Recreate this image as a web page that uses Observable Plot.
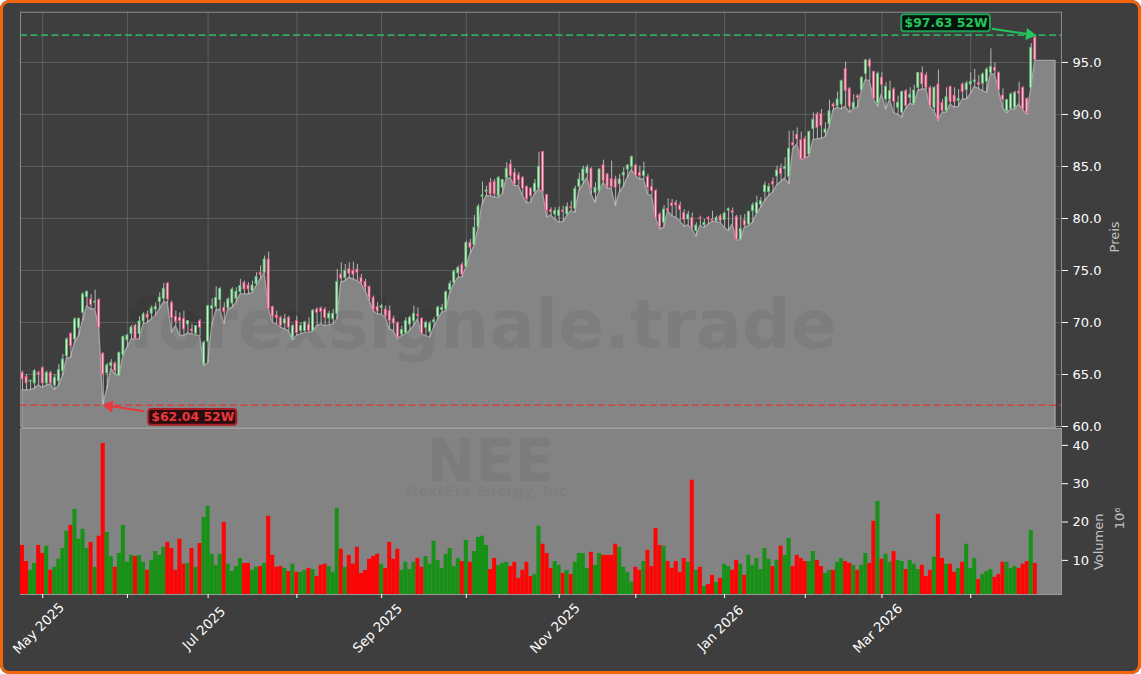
<!DOCTYPE html>
<html><head><meta charset="utf-8">
<script src="https://cdn.jsdelivr.net/npm/d3@7"></script>
<script src="https://cdn.jsdelivr.net/npm/@observablehq/plot@0.6"></script>
<style>
html,body{margin:0;padding:0;background:#fff;width:1141px;height:674px;overflow:hidden}
#chart{position:relative;width:1141px;height:674px;box-sizing:border-box;background:#3e3e3e;border-radius:9px;overflow:hidden}
#chart svg{position:absolute;left:0;top:0}
#edge{position:absolute;left:0;top:0;width:1141px;height:674px;box-sizing:border-box;border:3px solid #f4650c;border-radius:9px;pointer-events:none}
</style></head><body>
<div id="chart"><div id="edge"></div></div>
<script>
const highs=[65.32,65,64.46,65.48,65.32,65.74,65.32,65.32,65,65.97,66.92,68.53,68.94,70.45,70.4,72.85,73.01,72.69,73.11,72.28,
67.08,66.06,66.44,66.19,67.15,68.69,68.85,69.71,69.81,70.55,70.93,71.09,71.57,71.89,72.85,73.75,73.82,72.05,71.09,70.93,
71.09,70.13,69.81,69.71,70.29,68.21,71.64,72.28,73.43,73.34,71.89,72.37,73.34,73.34,74.14,73.98,73.82,73.98,74.78,75.42,
76.38,76.76,71.57,71.09,70.6,70.77,70.6,69.8,70.6,69.97,70.13,70.45,71.25,71.41,71.48,71.41,71.09,71.25,75.1,75.74,
75.58,75.74,75.8,75.58,74.62,74.14,73.5,72.54,71.9,71.74,71.57,71.57,70.61,70.04,69.65,70.45,70.61,71.57,71.41,70.45,
70.13,70.13,70.45,71.57,71.74,73.02,73.98,75.04,75.42,75.74,77.82,77.98,80.29,81.35,83.5,83.11,83.82,83.75,84.01,83.75,
85.36,85.61,84.78,84.4,84.01,83.11,82.95,83.75,86.38,86.45,82.31,81.03,81.03,81.09,81.18,81.5,81.66,83.1,84.32,85.03,
85.13,84.87,83.43,84.77,85.6,84.32,85.5,84.07,84.23,84.87,85.19,86,85.19,85.03,85.41,84.23,83.75,82.79,80.54,81.25,
81.89,81.83,81.73,81.57,80.86,80.7,80.54,79.58,80.22,79.9,80.2,80.7,80.22,80.38,80.6,81,81,80.3,80.3,80.38,
80.7,81.5,82.15,82,83.5,83.36,83.9,85.03,85.19,85.83,88.4,88.4,88.7,88.3,87.85,88.4,90.16,90.2,90.48,89.2,
91.38,91.12,92.15,93.3,95.03,92.57,91.92,91.92,93.62,95.29,95.35,94.17,94.07,94,93.04,93.2,92.57,91.76,92.24,92.4,
92.57,92.8,94,94.58,94,92.72,92.66,94.26,91.44,92.56,92.72,92.56,92.4,93.04,93.2,94,94.32,93.75,94,94.48,
96.31,94.96,94.07,92.47,91.44,92.08,92.24,93.1,92.66,91.6,96.8,97.63];
const bodyTops=[65.16,64.78,64.4,65.32,65.16,65.64,65.16,65.16,64.68,65.42,66.44,68.37,68.94,70.29,70.36,72.69,72.95,72.21,72,72.15,
67,65.87,66.12,66.06,67.08,68.62,68.75,69.52,69.71,70.1,70.77,70.77,71.35,71.5,72.4,73.24,73.75,71.89,70.55,70.45,
70.36,70.13,69.33,69.65,70.13,68.05,71.57,71.57,72.37,73.24,71.41,72.21,73.17,72.95,73.5,73.82,73.56,73.56,74.39,74.78,
76.06,76.06,71.5,70.67,70.45,70.3,70.45,69.65,70.13,69.65,70,69.8,71.13,71.25,71.35,71.25,70.84,70.84,73.91,74.62,
74.97,75.16,74.97,75.1,74.3,73.91,73.43,72.38,71.51,71.57,71.25,71.09,70.36,69.97,69.27,70.13,70.45,70.84,70.74,70.36,
69.97,69.88,70.2,71.44,71.41,72.92,73.72,74.88,75.26,75.55,77.66,77.66,79.11,81.13,82.22,82.7,83.43,83.5,83.91,83.69,
84.78,85.2,84.4,84.14,83.91,83.05,82.86,83.34,84.97,86.38,82.25,80.81,80.71,80.77,80.77,81.12,81.08,82.85,83.75,84.71,
84.9,84.77,82.95,84.71,85.13,84.23,83.81,83.75,83.75,84.39,85.09,85.9,85.09,84.39,84.52,84,83.04,82.63,80.38,80.86,
80.93,81.44,81.5,81.25,80.54,80.38,80.06,79.33,80.06,79.58,80.06,79.9,80.06,80.22,80.47,80.9,80.7,80.16,79,79.8,
80.64,81.25,81.5,81.66,83.17,83.04,83.52,84.61,84.8,84.93,86.7,87.24,88.07,87.53,87.66,88.33,89.5,90,90.06,88.56,
90.32,90.96,91.44,93.2,94.39,92.47,91.12,91.76,93.53,95.19,95.19,94.1,93.91,93.53,92.66,92.24,92.4,91.12,92.15,92.24,
91.9,92.3,94,94,93.75,92.56,92.56,92.88,91.12,91.66,92.63,91.82,91.5,92.88,92.98,93.14,93.27,93.04,93.84,94.32,
94.58,94.48,94,91.82,91.38,91.92,92.08,92.2,92.56,91.5,96.41,97.37];
const bodyBottoms=[64.52,64.14,64.3,64.14,64.97,64.14,64.14,64.14,63.94,64.36,65.32,66.76,67.72,68.37,69.49,70.93,72.44,71.67,71.9,69.49,
65,65.1,65.8,65.32,64.84,66.86,68.27,68.88,68.43,68.88,70.1,70.42,70.84,71.25,71.96,72.28,72.21,70.42,70.07,70.13,
69.33,69.81,69.14,68.94,69.49,65.97,68.14,71.32,71.51,72.15,71,71.38,71.83,72.28,72.92,73.17,73.17,73.02,73.69,74.59,
74.78,71.32,70.55,70.42,69.65,69.9,69.5,68.53,69,69.17,69.17,69.17,69.17,70.93,71,70.45,70.39,70.3,70.84,74.2,
74.27,74.68,74.56,74.78,73.82,73.34,72.38,71.19,71.06,71.41,70.61,70.13,69.9,68.53,68.85,69,69.8,70.13,70.61,68.92,
69.49,69.07,70.04,70.52,71.19,71.25,73.11,73.82,74.72,74.59,75.33,77.18,77.44,79.17,82.09,82.57,82.31,82.31,82.15,82.95,
83.91,84.07,83.27,83.69,82.89,81.83,82.15,82.57,82.89,82.6,80.74,80.61,80.39,80.23,80.6,80.38,80.96,80.93,83.04,83.59,
84.33,82.85,82.47,82.63,83.59,83.04,83.04,82.95,83.27,84.13,84.71,84.93,84.13,84.07,84.07,82.95,82.63,80.06,79.2,79.58,
80.74,81.18,81.25,80.8,79.84,79.9,79.1,78.78,79.97,79.33,79.9,79.74,79.74,79.74,79.84,80.75,80.54,77.92,77.98,79.33,
79.42,80.7,80.47,81.34,82.53,82.53,83.27,84.04,84.26,84.74,83.97,87.02,87.6,85.67,85.73,86.15,88.6,88.7,88.88,88.24,
89.04,90.74,90.8,90.96,92.24,90.74,90.55,91.6,92.34,93.91,94.58,91.5,91.06,92.82,91.44,91.44,91.22,90.64,90.16,90.8,
91.6,91,92.56,92.88,92.56,90.8,90.64,89.52,90.32,90.32,91.18,91.18,91.31,92.14,92.34,92.88,93.11,92.82,92.95,93.14,
94,94.2,92.34,91.38,90.32,90.54,90.64,92,90.48,90.16,92.56,95.22];
const lows=[63.46,63.46,63.5,63.62,63.94,63.72,63.94,64.04,63.5,63.88,64.84,66.51,66.6,68.05,68.69,70.13,71.57,71.25,71.25,69.49,
62.04,63.56,65.5,65,64.84,66.76,67.57,68.37,68.37,68.37,69.81,69.97,70.29,70.61,71.25,71.89,71.89,69,69.65,68.75,
68.69,68.94,68.85,68.75,68.69,65.8,66.06,69.65,71.09,71.25,69.81,71.25,71.41,71.89,72.69,72.69,72.69,72.85,73.5,74.14,
74.72,71.32,69.97,69.81,69.5,69.33,69.17,68.27,68.7,68.85,69,69,69.1,69.65,69.8,69.65,69.72,69.8,70.3,73.82,
73.98,74.3,74.14,73.98,73.66,73.02,72.06,71.09,70.77,70.77,70.45,69.33,69.17,68.37,68.69,68.85,69.17,69.65,70.29,68.85,
68.69,68.53,69.49,70.29,70.93,71.09,72.86,73.66,74.3,74.3,75.26,76.54,77.34,79.01,81.35,82.15,82.15,81.99,81.99,82.31,
83.82,83.82,83.11,83.11,82.15,81.45,81.51,82.31,82.79,82.47,80.07,80.29,79.91,79.59,79.65,80.22,80.7,80.54,82.63,83.27,
83.9,82.3,81.5,82.53,83.43,82.85,82.85,81.18,82.47,83.04,83.9,84.65,84.07,83.75,83.75,82.3,82.15,79.97,78.94,79.1,
80.7,80.22,80.06,79.74,79.2,79.33,78.94,78.24,79.26,79.1,79.4,79.65,79.65,79.58,79.1,78.78,79.4,77.9,77.88,79.1,
79.26,79.58,80.38,81,81.67,82.15,82.47,83.17,83.5,83.84,83.27,86.63,87.1,85.6,85.73,85.95,87.53,87.6,87.66,87.8,
88.72,90.42,90.64,90.48,90.74,90.16,90.48,90.64,92.24,93.3,93.2,91.44,90.74,91.92,90.48,91.38,90.1,90,89.68,90.55,
91,90.9,92.24,92.4,92.4,90.64,90.32,89.36,90.16,90.16,90.96,90.64,90.73,91.44,91.44,91.92,92.66,92.47,92.24,92.08,
93.84,93.84,92.24,90.64,90.09,90.48,90.48,90.96,90.41,89.96,92.47,95.15,95.15,95.15,95.15,95.15,95.15];
const volumes=[13.9,9.7,7.4,9.2,13.9,11.8,13.7,7.4,8.2,10.3,13.1,17.6,19.1,23.3,15.5,18.1,13.1,14.7,8.2,16.3,
40.5,17.3,11,8.2,11.8,19.1,9.5,11.3,11,11.3,9.5,7.4,10,12.3,11.3,13.4,14.7,13.1,7.4,15.5,
9,9.2,13.1,8.2,14.4,21.2,24.1,11.6,8.7,11.6,19.9,9,7.1,8.4,10.5,9.2,9.2,7.4,8.2,8.4,
9.2,21.5,11.3,8.2,8.4,7.9,7.1,9,6.9,6.9,7.4,7.9,7.6,5.8,8.7,9,8.4,6.9,23.6,12.9,
8.2,11.3,9,13.4,6.6,7.4,10.3,11,11.6,9,7.9,14.7,10.3,12.9,7.4,9.5,7.6,9.5,10.5,8.2,
11,9,15,10,7.9,11.6,13.1,8.4,10.5,9.7,15.2,9.5,12.3,16,16.3,13.9,7.6,10.5,8.7,9.2,
9.5,8.4,9.5,5.3,7.4,9.5,5.8,6.3,18.9,14.2,11.8,7.9,9.7,8.7,6.6,7.4,6.3,9.5,11.8,11.8,
7.9,12.1,8.7,11.8,11.3,11.3,11.3,14.2,13.4,8.2,6.9,4.3,8.2,7.4,9.7,12.6,8.4,18.3,13.9,13.7,
9.7,7.9,9.7,6.9,10.5,9.5,30.9,7.4,8.2,3.2,3.7,6.1,4.3,5.3,9,8.4,7.4,10,9,6.1,
11.3,8.7,10.5,7.6,13.1,10.3,8.4,10,13.7,11.3,15.7,8.4,11.3,10.5,9.7,9.7,12.3,10,8.4,6.6,
7.4,7.4,9.5,10.5,9.7,9.2,8.7,7.4,8.7,11.8,9.2,20.2,25.4,10.3,11.6,9.5,12.3,10,9.7,7.6,
10,9,7.6,8.7,5.8,7.4,10.8,22,10.5,9,9,6.9,7.9,9.5,14.2,7.9,10.5,5,6.3,7.1,
7.6,5.6,6.3,9.5,9.5,7.9,8.4,7.9,9,9.7,17.8,9.2];
const directions=("RRGGRRGRGGGGRGGGGRGRRGGRGGGGRGGRGGGGRRRRRGRGRGGGGGRGGGGRRGGRGRRRR"+
"GRGRGGRGRRRGGGRGRRRRRRRRGRRRRGGGGRRGGGGGGGGGRGRGGGGRRGGGRRRRRRGGRRRGG"+
"RGRGGGGRGGRRRRGGGGRRGRRRRGRRRRRGRGRGRRGRGGRRGRGGGGGGRGRGGRRRRGGRRGGRGG"+
"RRGRGGRRGRGGRGGRGGGRRRGRRGRRGRGGGRGGGRRRGGGRRRGR").split("");
const tickIndex=[5,26,46,68,89,110,133,152,174,194,213,235];
const monthLabels=[{i:5,t:"May 2025"},{i:46,t:"Jul 2025"},{i:89,t:"Sep 2025"},{i:133,t:"Nov 2025"},{i:174,t:"Jan 2026"},{i:213,t:"Mar 2026"}];
const priceTicks=[60,65,70,75,80,85,90,95];
const volumeTicks=[10,20,30,40];
const yearHigh=97.63, yearLow=62.04;

const F="DejaVu Sans";
const candles=d3.range(252).map(i=>({i,hi:highs[i],lo:lows[i],ot:bodyTops[i],ob:bodyBottoms[i],dir:directions[i]||"G",vol:volumes[i]}));
const lowSeries=lows.map((v,i)=>({i,v}));
const xDomain=[-0.5,257.5];
const isUp=d=>d.dir==="G";
const bodyStroke=d=>isUp(d)?"#58c070":"#e84f7f";
const bodyFill=d=>isUp(d)?"#d4e8d4":"#efd0d8";
const plotStyle={background:"transparent",fontFamily:F,fontSize:"13px",color:"#fff"};

const pricePlot=Plot.plot({
  width:1141,height:674,marginLeft:20,marginRight:80,marginTop:11.7,marginBottom:248,
  style:plotStyle,
  x:{domain:xDomain,axis:null},
  y:{domain:[60,99.83],axis:null},
  marks:[
    Plot.gridX(tickIndex,{stroke:"#5e5e5e",strokeOpacity:1,strokeWidth:1}),
    Plot.gridY(priceTicks,{stroke:"#5e5e5e",strokeOpacity:1,strokeWidth:1}),
    Plot.frame({stroke:"#8c8c8c",strokeWidth:1}),
    Plot.areaY(lowSeries,{x:"i",y1:59.8,y2:"v",fill:"#858585",stroke:"#a2a2a2",strokeWidth:1.4}),
    Plot.text(["forexsignale.trade"],{x:114,y:69.6,text:d=>d,fontSize:68,fontWeight:"bold",fill:"#000",fillOpacity:0.055}),
    Plot.ruleX(candles,{x:"i",y1:"lo",y2:"hi",stroke:"#c4c4c4",strokeWidth:0.9}),
    Plot.rect(candles,{x1:d=>d.i-0.25,x2:d=>d.i+0.25,y1:"ob",y2:"ot",fill:bodyFill,stroke:bodyStroke,strokeWidth:0.8}),
    Plot.ruleY([yearHigh],{stroke:"#2fb763",strokeWidth:1.6,strokeOpacity:0.9,strokeDasharray:"7,3.5"}),
    Plot.ruleY([yearLow],{stroke:"#dd3a3c",strokeWidth:1.6,strokeOpacity:0.9,strokeDasharray:"7,3.5"}),
    Plot.rect([{a:217.9,b:239.9,c:99.58,d:97.96}],{x1:"a",x2:"b",y1:"c",y2:"d",rx:3,fill:"#04140a",stroke:"#1f9d55",strokeWidth:2}),
    Plot.text(["$97.63 52W"],{x:228.9,y:98.8,text:d=>d,fill:"#22c55e",fontWeight:"bold",fontSize:12.4}),
    Plot.link([{x1:240.3,y1:98.24,x2:249.5,y2:97.7}],{x1:"x1",y1:"y1",x2:"x2",y2:"y2",stroke:"#22c55e",strokeWidth:2}),
    Plot.dot([{x:249.6,y:97.68}],{x:"x",y:"y",symbol:"triangle",r:4.5,rotate:98,fill:"#22c55e"}),
    Plot.rect([{a:31.3,b:53.1,c:61.63,d:60.13}],{x1:"a",x2:"b",y1:"c",y2:"d",rx:3,fill:"#2a0c0e",stroke:"#a81e22",strokeWidth:2}),
    Plot.text(["$62.04 52W"],{x:42.2,y:60.87,text:d=>d,fill:"#e8393c",fontWeight:"bold",fontSize:12.4}),
    Plot.link([{x1:30.2,y1:61.47,x2:21.6,y2:61.98}],{x1:"x1",y1:"y1",x2:"x2",y2:"y2",stroke:"#e8393c",strokeWidth:2}),
    Plot.dot([{x:21.5,y:61.97}],{x:"x",y:"y",symbol:"triangle",r:4.5,rotate:278,fill:"#e8393c"}),
    Plot.axisY({anchor:"right",ticks:priceTicks,tickFormat:d=>d.toFixed(1),tickSize:6,tickPadding:5,label:null,stroke:"#fff",fill:"#fff",fontSize:13}),
    Plot.text(["Preis"],{frameAnchor:"right",dx:53,dy:2,rotate:-90,text:d=>d,fill:"#c4c4c4",fontSize:13})
  ]
});

const volumePlot=Plot.plot({
  width:1141,height:674,marginLeft:20,marginRight:80,marginTop:428,marginBottom:80,
  style:plotStyle,
  x:{domain:xDomain,axis:null},
  y:{domain:[1.1,44.4],axis:null},
  marks:[
    Plot.frame({fill:"#838383",stroke:"#9a9a9a",strokeWidth:1}),
    Plot.text(["NEE"],{x:116,y:35.6,text:d=>d,fontSize:58,fontWeight:"bold",fill:"#000",fillOpacity:0.05}),
    Plot.text(["NextEra Energy, Inc"],{x:115,y:28,text:d=>d,fontSize:14.5,fontWeight:"bold",fill:"#000",fillOpacity:0.05}),
    Plot.rect(candles,{x1:d=>d.i-0.5,x2:d=>d.i+0.5,y1:1.1,y2:"vol",fill:d=>isUp(d)?"#179217":"#fd0505",inset:0}),
    Plot.axisX({ticks:tickIndex,tickSize:4,tickFormat:()=>"",label:null,stroke:"#fff"}),
    Plot.axisY({anchor:"right",ticks:volumeTicks,tickSize:6,tickPadding:5,label:null,stroke:"#fff",fill:"#fff",fontSize:13}),
    Plot.text(monthLabels,{x:"i",text:"t",frameAnchor:"bottom",dy:37,dx:-1,rotate:-45,fill:"#fff",fontSize:13.3}),
    Plot.text(["Volumen"],{frameAnchor:"right",dx:37,rotate:-90,dy:2,text:d=>d,fill:"#c4c4c4",fontSize:13}),
    Plot.text(["10⁶"],{frameAnchor:"right",dx:58,rotate:-90,dy:-4,text:d=>d,fill:"#c4c4c4",fontSize:13})
  ]
});
const root=document.getElementById("chart");
root.insertBefore(volumePlot,root.firstChild);
root.insertBefore(pricePlot,volumePlot.nextSibling);
</script>
</body></html>
